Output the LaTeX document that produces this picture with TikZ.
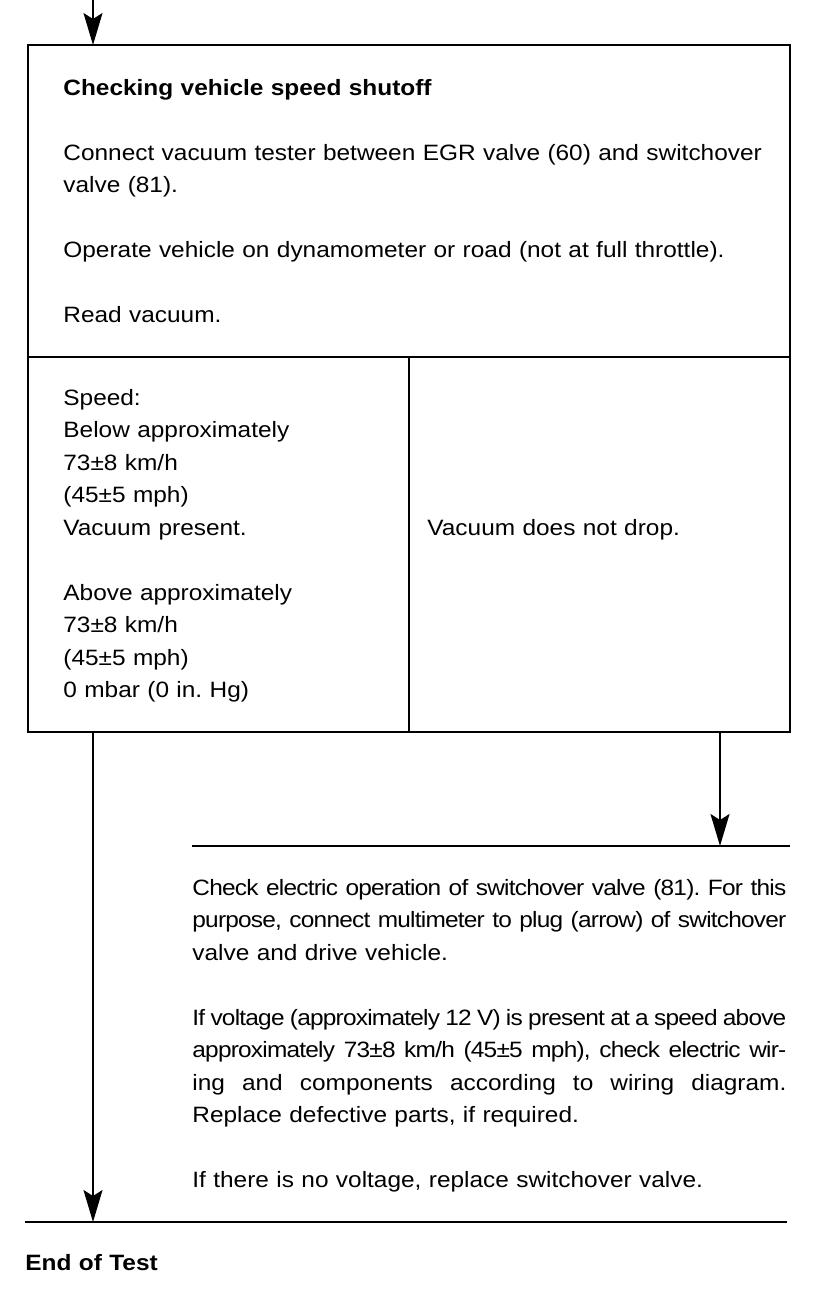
\documentclass[tikz,border=0pt]{standalone}
\usepackage{fontspec}
\setmainfont{Liberation Sans}[FakeStretch=1.1]
\newfontfamily\tightfont{Liberation Sans}[FakeStretch=1.1,LetterSpace=-3.5]
\usetikzlibrary{arrows.meta}
\frenchspacing

\begin{document}
\begin{tikzpicture}[x=0.5pt,y=-0.5pt,>={Stealth[length=16pt,width=9.5pt,inset=3pt]},
		box/.style={draw,line width=1pt,inner sep=0pt,outer sep=0pt,anchor=north west},
		txt/.style={anchor=base west,inner sep=0pt,align=left,text width=#1,
			font=\fontsize{11.1pt}{16.25pt}\selectfont},
		txt/.default=190pt,
		flow/.style={->,line width=0.75pt},
		rule/.style={line width=1pt}]
			\useasboundingbox (0,0) rectangle (816,1290);
			\def\colw{297pt}
			\def\jline#1{\leavevmode\hbox to \colw{\spaceskip=3pt plus 6pt minus 1.6pt #1}}
			
			\node[box,minimum width=381pt,minimum height=156pt] (check) at (28,45) {};
			\node[box,minimum width=190.5pt,minimum height=187.5pt] (speed) at (28,357) {};
			\node[box,minimum width=190.5pt,minimum height=187.5pt] (nodrop) at (409,357) {};
			
			\node[txt=360pt] (checktxt) at (63,95) {\textbf{Checking vehicle speed shutoff}\\[16.25pt]
				Connect vacuum tester between EGR valve (60) and switchover\\
				valve (81).\\[16.25pt]
				Operate vehicle on dynamometer or road (not at full throttle).\\[16.25pt]
				Read vacuum.};
			\node[txt] (speedtxt) at (63,405) {Speed:\\
				Below approximately\\
				73±8 km/h\\
				(45±5 mph)\\
				Vacuum present.\\[16.25pt]
				Above approximately\\
				73±8 km/h\\
				(45±5 mph)\\
				0 mbar (0 in. Hg)};
			\node[txt] (nodroptxt) at (427,535) {Vacuum does not drop.};
			
			\coordinate (in) at (93,0);
			\coordinate (ex) at (720,0);
			\coordinate (r1l) at (192,846);
			\coordinate (r1r) at (790,846);
			\coordinate (r2l) at (25,1222);
			\coordinate (r2r) at (787,1222);
			
			\draw[rule] (r1l) -- (r1r);
			\draw[rule] (r2l) -- (r2r);
			
			\node[txt=\colw] (elec) at (192,895) {%
				\jline{\tightfont Check electric operation of switchover valve (81). For this}\\
				\jline{\tightfont purpose, connect multimeter to plug (arrow) of switchover}\\
				valve and drive vehicle.\\[16.25pt]
				\jline{\tightfont If voltage (approximately 12 V) is present at a speed above}\\
				\jline{\tightfont approximately 73±8 km/h (45±5 mph), check electric wir-}\\
				\jline{ing and components according to wiring diagram.}\\
				Replace defective parts, if required.\\[16.25pt]
				If there is no voltage, replace switchover valve.};
			
			\node[txt,font=\fontsize{11.1pt}{16.25pt}\selectfont\bfseries] (fin) at (25,1270) {End of Test};
			
			\draw[flow] (in) -- (in |- check.north);
			\draw[flow] (speed.south -| in) -- (in |- r2l);
			\draw[flow] (nodrop.south -| ex) -- (ex |- r1l);
		\end{tikzpicture}
\end{document}
